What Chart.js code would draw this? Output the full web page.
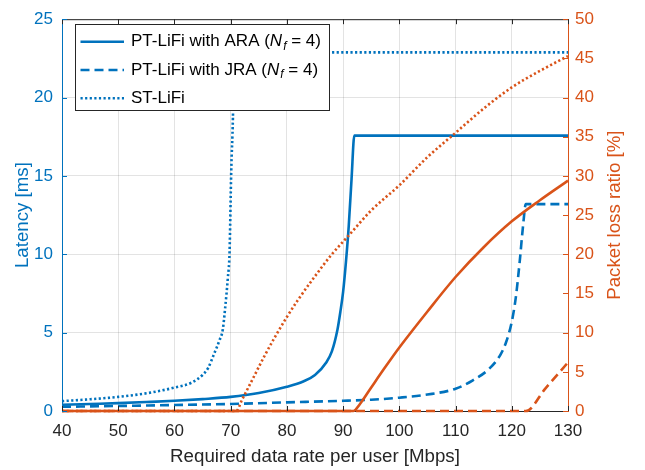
<!DOCTYPE html>
<html>
<head>
<meta charset="utf-8">
<script src="https://cdn.jsdelivr.net/npm/chart.js@4.4.1/dist/chart.umd.min.js"></script>
<style>
  body { margin: 0; background: #fff; }
  #wrap { width: 645px; height: 470px; }
</style>
</head>
<body>
<div id="wrap"><canvas id="latencyChart" width="645" height="470"></canvas></div>
<script>
// Données (Mbps -> ms / %)
const araRate = [40, 45, 50, 55, 60, 65, 70, 75, 80, 83, 85, 87, 88, 89, 89.5, 90, 90.5, 91, 91.5, 92, 130];
const araLatency = [0.4, 0.45, 0.5, 0.57, 0.65, 0.76, 0.9, 1.15, 1.55, 1.9, 2.3, 3.1, 3.8, 5.2, 6.3, 7.6, 9.5, 11.8, 14.8, 17.57, 17.57];

const jraRate = [40, 50, 60, 70, 80, 90, 95, 100, 105, 110, 113, 116, 118, 119, 120, 120.7, 121.4, 122, 122.5, 130];
const jraLatency = [0.27, 0.32, 0.38, 0.45, 0.55, 0.65, 0.72, 0.85, 1.05, 1.42, 1.94, 2.7, 3.6, 4.4, 5.7, 7.2, 9.5, 11.8, 13.2, 13.2];

const stRate = [40, 45, 50, 55, 60, 63, 65, 66, 67, 68, 68.6, 69, 69.5, 69.8, 70.1, 70.4, 70.6, 130];
const stLatency = [0.63, 0.75, 0.9, 1.13, 1.49, 1.8, 2.3, 2.75, 3.6, 4.5, 5.2, 6.5, 8.5, 10.1, 15.3, 18.7, 22.88, 22.88];

const araLossRate = [40, 91.8, 93, 95, 97.5, 100, 105, 110, 115, 120, 125, 130];
const araLoss = [0, 0, 0.9, 3.0, 5.6, 8.1, 12.7, 17.1, 20.9, 24.2, 26.9, 29.4];

const jraLossRate = [40, 122.5, 126, 130];
const jraLoss = [0, 0, 2.9, 6.2];

const stLossRate = [40, 71, 72, 74, 76, 78, 80, 82, 85, 88, 91, 95, 100, 105, 110, 115, 120, 125, 130];
const stLoss = [0, 0, 1.4, 4.2, 7.0, 9.6, 12.0, 14.2, 17.2, 20.0, 22.4, 25.6, 28.8, 32.4, 35.5, 38.6, 41.3, 43.4, 45.3];

const xTicks = [40, 50, 60, 70, 80, 90, 100, 110, 120, 130];
const latencyTicks = [0, 5, 10, 15, 20, 25];
const lossTicks = [0, 5, 10, 15, 20, 25, 30, 35, 40, 45, 50];

const BLUE = '#0072BD';
const ORANGE = '#D95319';
const DARK = '#262626';
const FONT = "'Liberation Sans', Arial, Helvetica, sans-serif";
const DASHED = [9, 5];
const DOTTED = [2.2, 2.4];

function toPoints(xs, ys) {
    return xs.map((x, i) => ({ x: x, y: ys[i] }));
}

function lineSet(label, xs, ys, color, dash, axis, order) {
    return {
        label: label,
        data: toPoints(xs, ys),
        borderColor: color,
        backgroundColor: color,
        borderWidth: 2.6,
        borderDash: dash,
        pointRadius: 0,
        cubicInterpolationMode: 'monotone',
        clip: false,
        yAxisID: axis,
        order: order
    };
}

// Légende dessinée à la main (fond blanc, par-dessus les courbes)
const legendBox = {
    id: 'legendBox',
    afterDatasetsDraw(chart) {
        const ctx = chart.ctx;
        const x0 = 75.5, y0 = 24.5, w = 254, h = 86;
        ctx.save();
        ctx.fillStyle = '#fff';
        ctx.fillRect(x0, y0, w, h);
        ctx.strokeStyle = DARK;
        ctx.lineWidth = 1;
        ctx.strokeRect(x0, y0, w, h);

        const rows = [
            { dash: [], name: 'PT-LiFi with ARA (', nf: true },
            { dash: DASHED, name: 'PT-LiFi with JRA (', nf: true },
            { dash: DOTTED, name: 'ST-LiFi', nf: false }
        ];
        rows.forEach((r, i) => {
            const y = 41.7 + i * 28.3;
            ctx.strokeStyle = BLUE;
            ctx.lineWidth = 2.6;
            ctx.setLineDash(r.dash);
            ctx.beginPath();
            ctx.moveTo(80.5, y);
            ctx.lineTo(124, y);
            ctx.stroke();
            ctx.setLineDash([]);

            ctx.fillStyle = '#000';
            ctx.textBaseline = 'middle';
            ctx.font = '17px ' + FONT;
            let tx = 131;
            ctx.fillText(r.name, tx, y);
            if (r.nf) {
                tx += ctx.measureText(r.name).width;
                ctx.font = 'italic 17px ' + FONT;
                ctx.fillText('N', tx, y);
                tx += ctx.measureText('N').width;
                ctx.font = 'italic 12px ' + FONT;
                ctx.fillText('f', tx + 1, y + 5);
                tx += ctx.measureText('f').width + 1;
                ctx.font = '17px ' + FONT;
                ctx.fillText(' = 4)', tx, y);
            }
        });
        ctx.restore();
    }
};

// Ticks vers l'intérieur, cadre du haut et titre de droite (style MATLAB)
const innerTicks = {
    id: 'innerTicks',
    afterDraw(chart) {
        const ctx = chart.ctx;
        const a = chart.chartArea;
        const sx = chart.scales.x, sy = chart.scales.y, sy1 = chart.scales.y1;
        const len = 5;
        ctx.save();
        ctx.lineWidth = 1;
        ctx.strokeStyle = DARK;
        ctx.beginPath();
        ctx.moveTo(a.left, a.top + 0.5);
        ctx.lineTo(a.right, a.top + 0.5);
        xTicks.forEach(v => {
            const px = Math.round(sx.getPixelForValue(v)) + 0.5;
            ctx.moveTo(px, a.bottom);
            ctx.lineTo(px, a.bottom - len);
            ctx.moveTo(px, a.top);
            ctx.lineTo(px, a.top + len);
        });
        ctx.stroke();

        ctx.strokeStyle = BLUE;
        ctx.beginPath();
        latencyTicks.forEach(v => {
            const py = Math.round(sy.getPixelForValue(v)) + 0.5;
            ctx.moveTo(a.left, py);
            ctx.lineTo(a.left + len, py);
        });
        ctx.stroke();

        ctx.strokeStyle = ORANGE;
        ctx.beginPath();
        lossTicks.forEach(v => {
            const py = Math.round(sy1.getPixelForValue(v)) + 0.5;
            ctx.moveTo(a.right, py);
            ctx.lineTo(a.right - len, py);
        });
        ctx.stroke();

        // titre de l'axe droit, lu de bas en haut comme dans MATLAB
        ctx.translate(615, (a.top + a.bottom) / 2);
        ctx.rotate(-Math.PI / 2);
        ctx.fillStyle = ORANGE;
        ctx.font = '18.7px ' + FONT;
        ctx.textAlign = 'center';
        ctx.textBaseline = 'middle';
        ctx.fillText('Packet loss ratio [%]', 0, 0);
        ctx.restore();
    }
};

new Chart(document.getElementById('latencyChart').getContext('2d'), {
    type: 'line',
    data: {
        datasets: [
            lineSet('PT-LiFi with ARA loss', araLossRate, araLoss, ORANGE, [], 'y1', 1),
            lineSet('PT-LiFi with JRA loss', jraLossRate, jraLoss, ORANGE, DASHED, 'y1', 2),
            lineSet('ST-LiFi loss', stLossRate, stLoss, ORANGE, DOTTED, 'y1', 0),
            lineSet('PT-LiFi with ARA (N_f = 4)', araRate, araLatency, BLUE, [], 'y', 3),
            lineSet('PT-LiFi with JRA (N_f = 4)', jraRate, jraLatency, BLUE, DASHED, 'y', 4),
            lineSet('ST-LiFi', stRate, stLatency, BLUE, DOTTED, 'y', 5)
        ]
    },
    options: {
        responsive: false,
        animation: false,
        layout: { padding: { top: 12, left: 0, right: 0, bottom: 0 } },
        plugins: {
            legend: { display: false },
            tooltip: { enabled: false }
        },
        scales: {
            x: {
                type: 'linear',
                min: 40,
                max: 130,
                afterFit: s => { s.height = 59; },
                afterBuildTicks: s => { s.ticks = xTicks.map(v => ({ value: v })); },
                ticks: { color: DARK, font: { family: FONT, size: 17 }, padding: 10, maxRotation: 0 },
                grid: { color: 'rgba(38,38,38,0.13)', drawTicks: false },
                border: { color: DARK, width: 1 },
                title: {
                    display: true,
                    text: 'Required data rate per user [Mbps]',
                    color: DARK,
                    font: { family: FONT, size: 18.7 },
                    padding: { top: 0, bottom: 2 }
                }
            },
            y: {
                position: 'left',
                min: 0,
                max: 25,
                afterFit: s => { s.width = 62; },
                afterBuildTicks: s => { s.ticks = latencyTicks.map(v => ({ value: v })); },
                ticks: { color: BLUE, font: { family: FONT, size: 17 }, padding: 9 },
                grid: { color: 'rgba(38,38,38,0.13)', drawTicks: false },
                border: { color: BLUE, width: 1 },
                title: {
                    display: true,
                    text: 'Latency [ms]',
                    color: BLUE,
                    font: { family: FONT, size: 18.7 },
                    padding: { top: 12, bottom: 0 }
                }
            },
            y1: {
                position: 'right',
                min: 0,
                max: 50,
                afterFit: s => { s.width = 77; },
                afterBuildTicks: s => { s.ticks = lossTicks.map(v => ({ value: v })); },
                ticks: { color: ORANGE, font: { family: FONT, size: 17 }, padding: 7 },
                grid: { drawOnChartArea: false, drawTicks: false },
                border: { color: ORANGE, width: 1 },
                title: { display: false }
            }
        }
    },
    plugins: [legendBox, innerTicks]
});
</script>
</body>
</html>
